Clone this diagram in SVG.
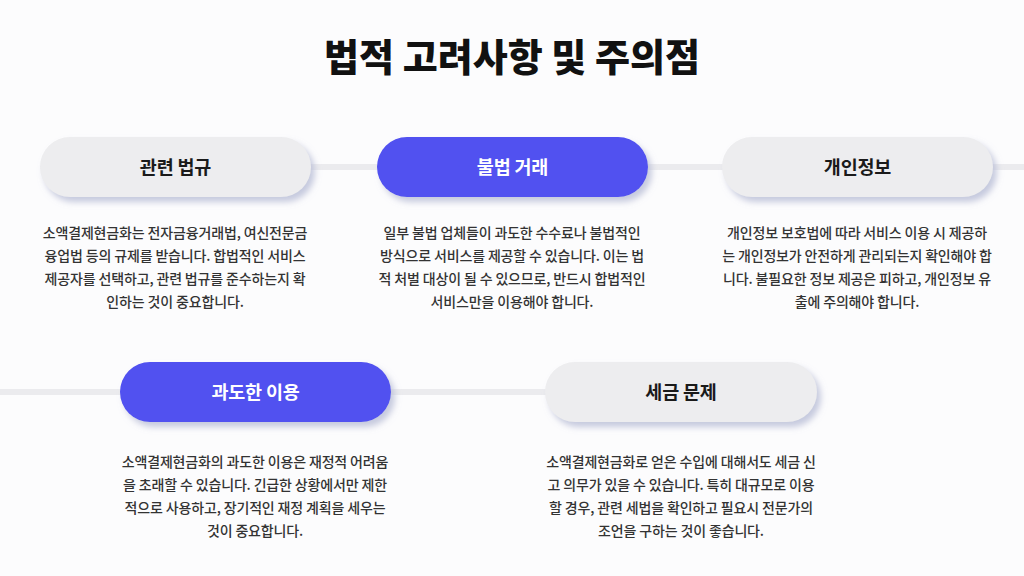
<svg xmlns="http://www.w3.org/2000/svg" width="1024" height="576" viewBox="0 0 1024 576">
<defs>
<filter id="sh" x="-20%" y="-40%" width="140%" height="190%">
<feGaussianBlur in="SourceAlpha" stdDeviation="3"/>
<feOffset dx="4" dy="5" result="b"/>
<feFlood flood-color="#b8bdd6" flood-opacity="0.8"/>
<feComposite in2="b" operator="in"/>
<feMerge><feMergeNode/><feMergeNode in="SourceGraphic"/></feMerge>
</filter>
<style>
.t{font-family:"Noto Sans CJK KR","Noto Sans",sans-serif;}
.title{font-size:38px;font-weight:900;fill:#111;}
.pg{fill:#ededef;filter:url(#sh);}
.pb{fill:#5151f0;filter:url(#sh);}
.lg{font-size:18.5px;font-weight:700;fill:#1a1a1a;letter-spacing:-0.2px;}
.lw{font-size:18.5px;font-weight:700;fill:#ffffff;letter-spacing:-0.2px;}
.d{font-size:14px;font-weight:500;fill:#333;letter-spacing:-0.15px;}
.ln{stroke:#ebebee;stroke-width:6;fill:none;}
</style>
</defs>
<rect width="1024" height="576" fill="#fcfcfd"/>
<text class="t title" x="512" y="71" text-anchor="middle" textLength="376" lengthAdjust="spacingAndGlyphs">법적 고려사항 및 주의점</text>
<g id="connectors">
<line class="ln" x1="175" y1="167" x2="1024" y2="167"/>
<line class="ln" x1="0" y1="392" x2="681" y2="392"/>
</g>
<g id="node-laws">
<rect class="pg" x="40" y="137" width="271" height="60" rx="30"/>
<text class="t lg" x="175.5" y="173.5" text-anchor="middle">관련 법규</text>
<text class="t d" text-anchor="middle"><tspan x="175" y="238">소액결제현금화는 전자금융거래법, 여신전문금</tspan><tspan x="175" y="261">융업법 등의 규제를 받습니다. 합법적인 서비스</tspan><tspan x="175" y="284">제공자를 선택하고, 관련 법규를 준수하는지 확</tspan><tspan x="175" y="307">인하는 것이 중요합니다.</tspan></text>
</g>
<g id="node-illegal">
<rect class="pb" x="377" y="137" width="271" height="60" rx="30"/>
<text class="t lw" x="512.5" y="173.5" text-anchor="middle">불법 거래</text>
<text class="t d" text-anchor="middle"><tspan x="512" y="238">일부 불법 업체들이 과도한 수수료나 불법적인</tspan><tspan x="512" y="261">방식으로 서비스를 제공할 수 있습니다. 이는 법</tspan><tspan x="512" y="284">적 처벌 대상이 될 수 있으므로, 반드시 합법적인</tspan><tspan x="512" y="307">서비스만을 이용해야 합니다.</tspan></text>
</g>
<g id="node-privacy">
<rect class="pg" x="722" y="137" width="271" height="60" rx="30"/>
<text class="t lg" x="857.5" y="173.5" text-anchor="middle">개인정보</text>
<text class="t d" text-anchor="middle"><tspan x="857" y="238">개인정보 보호법에 따라 서비스 이용 시 제공하</tspan><tspan x="857" y="261">는 개인정보가 안전하게 관리되는지 확인해야 합</tspan><tspan x="857" y="284">니다. 불필요한 정보 제공은 피하고, 개인정보 유</tspan><tspan x="857" y="307">출에 주의해야 합니다.</tspan></text>
</g>
<g id="node-overuse">
<rect class="pb" x="120" y="362" width="271" height="60" rx="30"/>
<text class="t lw" x="255.5" y="398.5" text-anchor="middle">과도한 이용</text>
<text class="t d" text-anchor="middle"><tspan x="255" y="467">소액결제현금화의 과도한 이용은 재정적 어려움</tspan><tspan x="255" y="490">을 초래할 수 있습니다. 긴급한 상황에서만 제한</tspan><tspan x="255" y="513">적으로 사용하고, 장기적인 재정 계획을 세우는</tspan><tspan x="255" y="536">것이 중요합니다.</tspan></text>
</g>
<g id="node-tax">
<rect class="pg" x="545" y="362" width="272" height="60" rx="30"/>
<text class="t lg" x="681" y="398.5" text-anchor="middle">세금 문제</text>
<text class="t d" text-anchor="middle"><tspan x="681" y="467">소액결제현금화로 얻은 수입에 대해서도 세금 신</tspan><tspan x="681" y="490">고 의무가 있을 수 있습니다. 특히 대규모로 이용</tspan><tspan x="681" y="513">할 경우, 관련 세법을 확인하고 필요시 전문가의</tspan><tspan x="681" y="536">조언을 구하는 것이 좋습니다.</tspan></text>
</g>
</svg>
